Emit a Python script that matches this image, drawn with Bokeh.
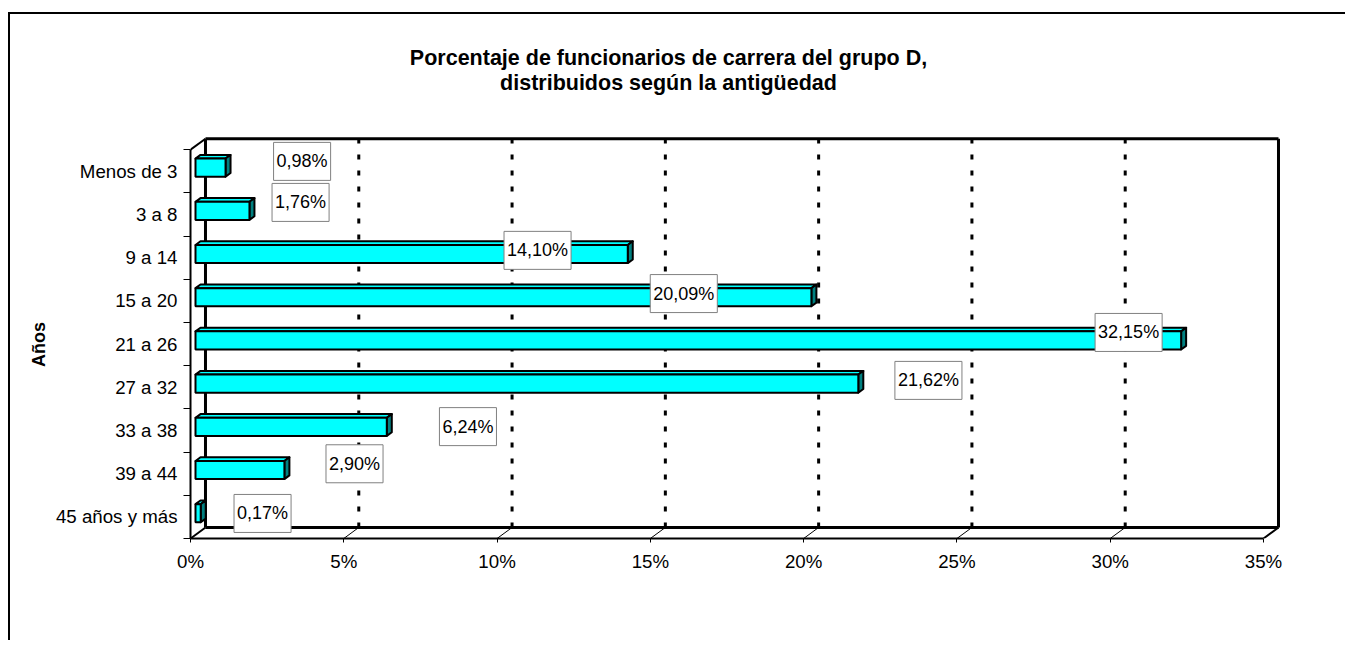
from bokeh.plotting import figure
from bokeh.layouts import column
from bokeh.models import (Range1d, FixedTicker, PrintfTickFormatter,
                          ColumnDataSource)
from bokeh.core.properties import value
from bokeh.embed import file_html
from bokeh.resources import INLINE

# ---------------- data ----------------
categories = ["Menos de 3", "3 a 8", "9 a 14", "15 a 20", "21 a 26",
              "27 a 32", "33 a 38", "39 a 44", "45 años y más"]
values = [0.98, 1.76, 14.10, 20.09, 32.15, 21.62, 6.24, 2.90, 0.17]
x_ticks = [0, 5, 10, 15, 20, 25, 30, 35]
label_x = [3.64, 3.59, 11.32, 16.09, 30.60, 24.07, 9.05, 5.35, 2.35]
label_dy = [0.23, 0.28, 0.17, 0.17, 0.27, 0.16, 0.09, 0.23, 0.08]
title_lines = ["Porcentaje de funcionarios de carrera del grupo D,",
               "distribuidos según la antigüedad"]
y_title = "Años"

# ---------------- geometry / style ----------------
FONT = "Liberation Sans"
W = 1345
TOP_H = 135
n = len(categories)
XMAX = x_ticks[-1]
DX, DY = 0.489, 0.255          # depth of the 3D box (x in %, y in slots)
BAR_H = 0.42
slots = [n - 1 - i for i in range(n)]

# ---------------- title strip ----------------
pt = figure(width=W, height=TOP_H, output_backend="svg", toolbar_location=None,
            x_range=Range1d(0, W), y_range=Range1d(TOP_H, 0),
            x_axis_location=None, y_axis_location=None,
            min_border_left=0, min_border_right=0,
            min_border_top=0, min_border_bottom=0)
pt.frame_align = False
pt.outline_line_color = None
pt.grid.visible = False
pt.background_fill_color = None
pt.border_fill_color = None
pt.text(x=[668, 668], y=[57, 82], text=title_lines, text_align="center",
        text_baseline="alphabetic", text_font=value(FONT),
        text_font_style="bold", text_font_size="21.5px", text_color="black")

# ---------------- main chart ----------------
p = figure(width=W, height=505, output_backend="svg", toolbar_location=None,
           x_range=Range1d(0, 35.587), y_range=Range1d(0, 9.329),
           min_border_left=190, min_border_right=W - 1281,
           min_border_top=0, min_border_bottom=102)
p.frame_align = False
p.outline_line_color = None
p.grid.visible = False
p.background_fill_color = "white"
p.border_fill_color = None

xa = p.xaxis[0]
xa.ticker = FixedTicker(ticks=x_ticks)
xa.formatter = PrintfTickFormatter(format="%d%%")
xa.bounds = (0, XMAX)
xa.axis_line_width = 2
xa.major_tick_out = 4
xa.major_tick_in = 0
xa.minor_tick_line_color = None
xa.major_label_standoff = 8
xa.major_label_text_font = FONT
xa.major_label_text_font_size = "18.7px"
xa.major_label_text_color = "black"

ya = p.yaxis[0]
ya.ticker = FixedTicker(ticks=[s + 0.5 for s in slots],
                        minor_ticks=list(range(n + 1)))
ya.major_label_overrides = {s + 0.5: c for s, c in zip(slots, categories)}
ya.bounds = (0, n)
ya.axis_line_width = 2
ya.major_tick_out = 0
ya.major_tick_in = 0
ya.minor_tick_out = 7
ya.minor_tick_in = 0
ya.minor_tick_line_color = "black"
ya.major_label_standoff = 6
ya.major_label_text_font = FONT
ya.major_label_text_font_size = "18.7px"
ya.major_label_text_color = "black"
ya.axis_label = y_title + "\u00a0\u00a0\u00a0"
ya.axis_label_text_font = FONT
ya.axis_label_text_font_style = "bold"
ya.axis_label_text_font_size = "18px"
ya.axis_label_text_color = "black"
ya.axis_label_standoff = 4

# ---- 3D walls ----
gx = [t for t in x_ticks if 0 < t < XMAX]
p.segment(x0=gx, y0=[0] * len(gx), x1=[g + DX for g in gx],
          y1=[DY] * len(gx), line_color="black", line_width=1)
p.segment(x0=[g + DX for g in gx], y0=[DY] * len(gx), x1=[g + DX for g in gx],
          y1=[n + DY] * len(gx), line_color="black", line_width=3,
          line_dash="5 11")
p.multi_line(xs=[[DX, DX], [DX, XMAX + DX], [XMAX + DX, XMAX + DX], [DX, XMAX + DX]],
             ys=[[DY, n + DY], [n + DY, n + DY], [DY, n + DY], [DY, DY]],
             line_color="black", line_width=3)
p.multi_line(xs=[[0, DX], [0, DX], [XMAX, XMAX + DX]],
             ys=[[n, n + DY], [0, DY], [0, DY]],
             line_color="black", line_width=2)

# ---- bars ----
bx0 = DX / 3
by = [s + 0.5 + DY / 3 for s in slots]
bx1 = [bx0 + v for v in values]
src = ColumnDataSource(dict(y=by, left=[bx0] * n, right=bx1))
top_xs, top_ys, side_xs, side_ys = [], [], [], []
for yc, x1 in zip(by, bx1):
    yt, yb = yc + BAR_H / 2, yc - BAR_H / 2
    top_xs.append([bx0, x1, x1 + DX / 3, bx0 + DX / 3])
    top_ys.append([yt, yt, yt + DY / 3, yt + DY / 3])
    side_xs.append([x1, x1 + DX / 3, x1 + DX / 3, x1])
    side_ys.append([yb, yb + DY / 3, yt + DY / 3, yt])
p.patches(xs=top_xs, ys=top_ys, fill_color="#00FFFF", line_color="black",
          line_width=2, line_join="round")
p.patches(xs=side_xs, ys=side_ys, fill_color="#008080", line_color="black",
          line_width=2, line_join="round")
p.hbar(y="y", left="left", right="right", height=BAR_H, source=src,
       fill_color="#00FFFF", line_color="black", line_width=2)

# ---- data labels ----
texts = [f"{v:.2f}".replace(".", ",") + "%" for v in values]
lsrc = ColumnDataSource(dict(x=label_x,
                             y=[s + 0.5 + d for s, d in zip(slots, label_dy)],
                             t=texts))
p.text(x="x", y="y", text="t", source=lsrc, text_align="center",
       text_baseline="middle", text_font=value(FONT), text_font_size="18px",
       text_color="black", background_fill_color="white",
       border_line_color="#808080", border_line_width=1,
       padding=dict(left=3, right=3, top=9, bottom=9))

root = column(pt, p, spacing=0, styles={
    "background": ("linear-gradient(#000,#000) 8px 12px / 2px 100% no-repeat, "
                   "linear-gradient(#000,#000) 8px 12px / 100% 2px no-repeat"),
})

open("out.html", "w").write(file_html(root, INLINE))
